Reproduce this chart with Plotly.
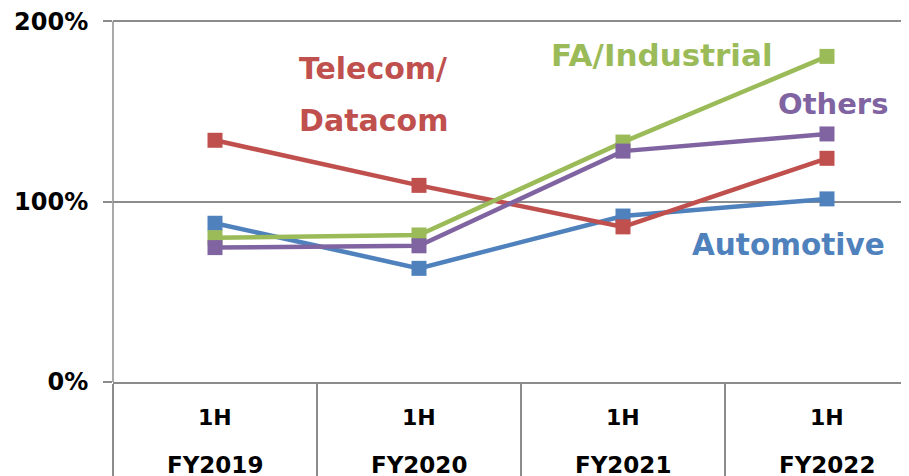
import plotly.graph_objects as go

# ---- data ----
categories = ["FY2019", "FY2020", "FY2021", "FY2022"]
half_labels = ["1H", "1H", "1H", "1H"]
automotive = [88, 63, 92, 101.5]
telecom = [134, 109, 86, 124]
fa_industrial = [80, 81.5, 133, 180.5]
others = [74.5, 75.5, 128, 137.5]
y_tick_vals = [0, 100, 200]
y_tick_text = ["0%", "100%", "200%"]

series = [
    ("Automotive", automotive, "#4F81BD"),
    ("Telecom/Datacom", telecom, "#C0504D"),
    ("FA/Industrial", fa_industrial, "#9BBB59"),
    ("Others", others, "#8064A2"),
]

# ---- layout geometry (page body adds an 8px offset) ----
W, H = 909, 476
M_L, M_R, M_T, M_B = 105, 0, 6, 102
Y_MAX = 204
CAT_PX = 204
plot_w = W - M_L - M_R
plot_h = H - M_T - M_B
x_span = plot_w / CAT_PX
FONT = "DejaVu Sans"
GRID = "#8C8C8C"

fig = go.Figure()
for name, vals, color in series:
    fig.add_trace(go.Scatter(
        x=categories, y=vals, name=name, mode="lines+markers",
        line=dict(color=color, width=4.5),
        marker=dict(symbol="square", size=15, color=color),
        cliponaxis=False,
    ))

# series labels (data-coordinate anchors)
labels = [
    ("<b>Telecom/</b>", 0.775, 174, "#C0504D", 30),
    ("<b>Datacom</b>", 0.775, 145, "#C0504D", 30),
    ("<b>FA/Industrial</b>", 2.19, 181, "#9BBB59", 31),
    ("<b>Others</b>", 3.03, 154, "#8064A2", 29),
    ("<b>Automotive</b>", 2.81, 76, "#4F81BD", 29.5),
]
annotations = []
for text, xv, yv, color, fs in labels:
    annotations.append(dict(
        text=text, x=xv, y=yv, xref="x", yref="y", showarrow=False,
        xanchor="center", yanchor="middle",
        font=dict(family=FONT, size=fs, color=color),
    ))

# category labels below the axis (two rows)
row1_y = -35 / plot_h
row2_y = -83 / plot_h
for i, cat in enumerate(categories):
    annotations.append(dict(
        text="<b>%s</b>" % half_labels[i], x=i, y=row1_y, xref="x", yref="paper",
        showarrow=False, xanchor="center", yanchor="middle",
        font=dict(family=FONT, size=22, color="#000000"),
    ))
    annotations.append(dict(
        text="<b>%s</b>" % cat, x=i, y=row2_y, xref="x", yref="paper",
        showarrow=False, xanchor="center", yanchor="middle",
        font=dict(family=FONT, size=23, color="#000000"),
    ))

# vertical value-axis line, from 0% up to the top gridline only
shapes = [dict(
    type="line", xref="paper", yref="y", x0=0, x1=0,
    y0=y_tick_vals[0], y1=y_tick_vals[-1],
    line=dict(color=GRID, width=1.5), layer="above",
)]

fig.update_layout(
    width=W, height=H,
    margin=dict(l=M_L, r=M_R, t=M_T, b=M_B, pad=0),
    paper_bgcolor="white", plot_bgcolor="white",
    showlegend=False,
    annotations=annotations,
    shapes=shapes,
    xaxis=dict(
        type="category", categoryorder="array", categoryarray=categories,
        range=[-0.5, -0.5 + x_span],
        showgrid=False, zeroline=False,
        showline=True, linecolor=GRID, linewidth=1.5,
        ticks="outside", tickson="boundaries", ticklen=M_B,
        tickcolor=GRID, tickwidth=1.5,
        showticklabels=False, fixedrange=True,
    ),
    yaxis=dict(
        range=[0, Y_MAX],
        tickvals=y_tick_vals, ticktext=["<b>%s</b>" % t for t in y_tick_text],
        tickfont=dict(family=FONT, size=24, color="#000000"),
        ticklabeloverflow="allow",
        showgrid=True, gridcolor=GRID, gridwidth=1.5,
        zeroline=False, showline=False,
        ticks="outside", ticklen=9, tickcolor=GRID, tickwidth=1.5,
        ticklabelstandoff=10,
        fixedrange=True,
    ),
)

fig.write_html("out.html")
